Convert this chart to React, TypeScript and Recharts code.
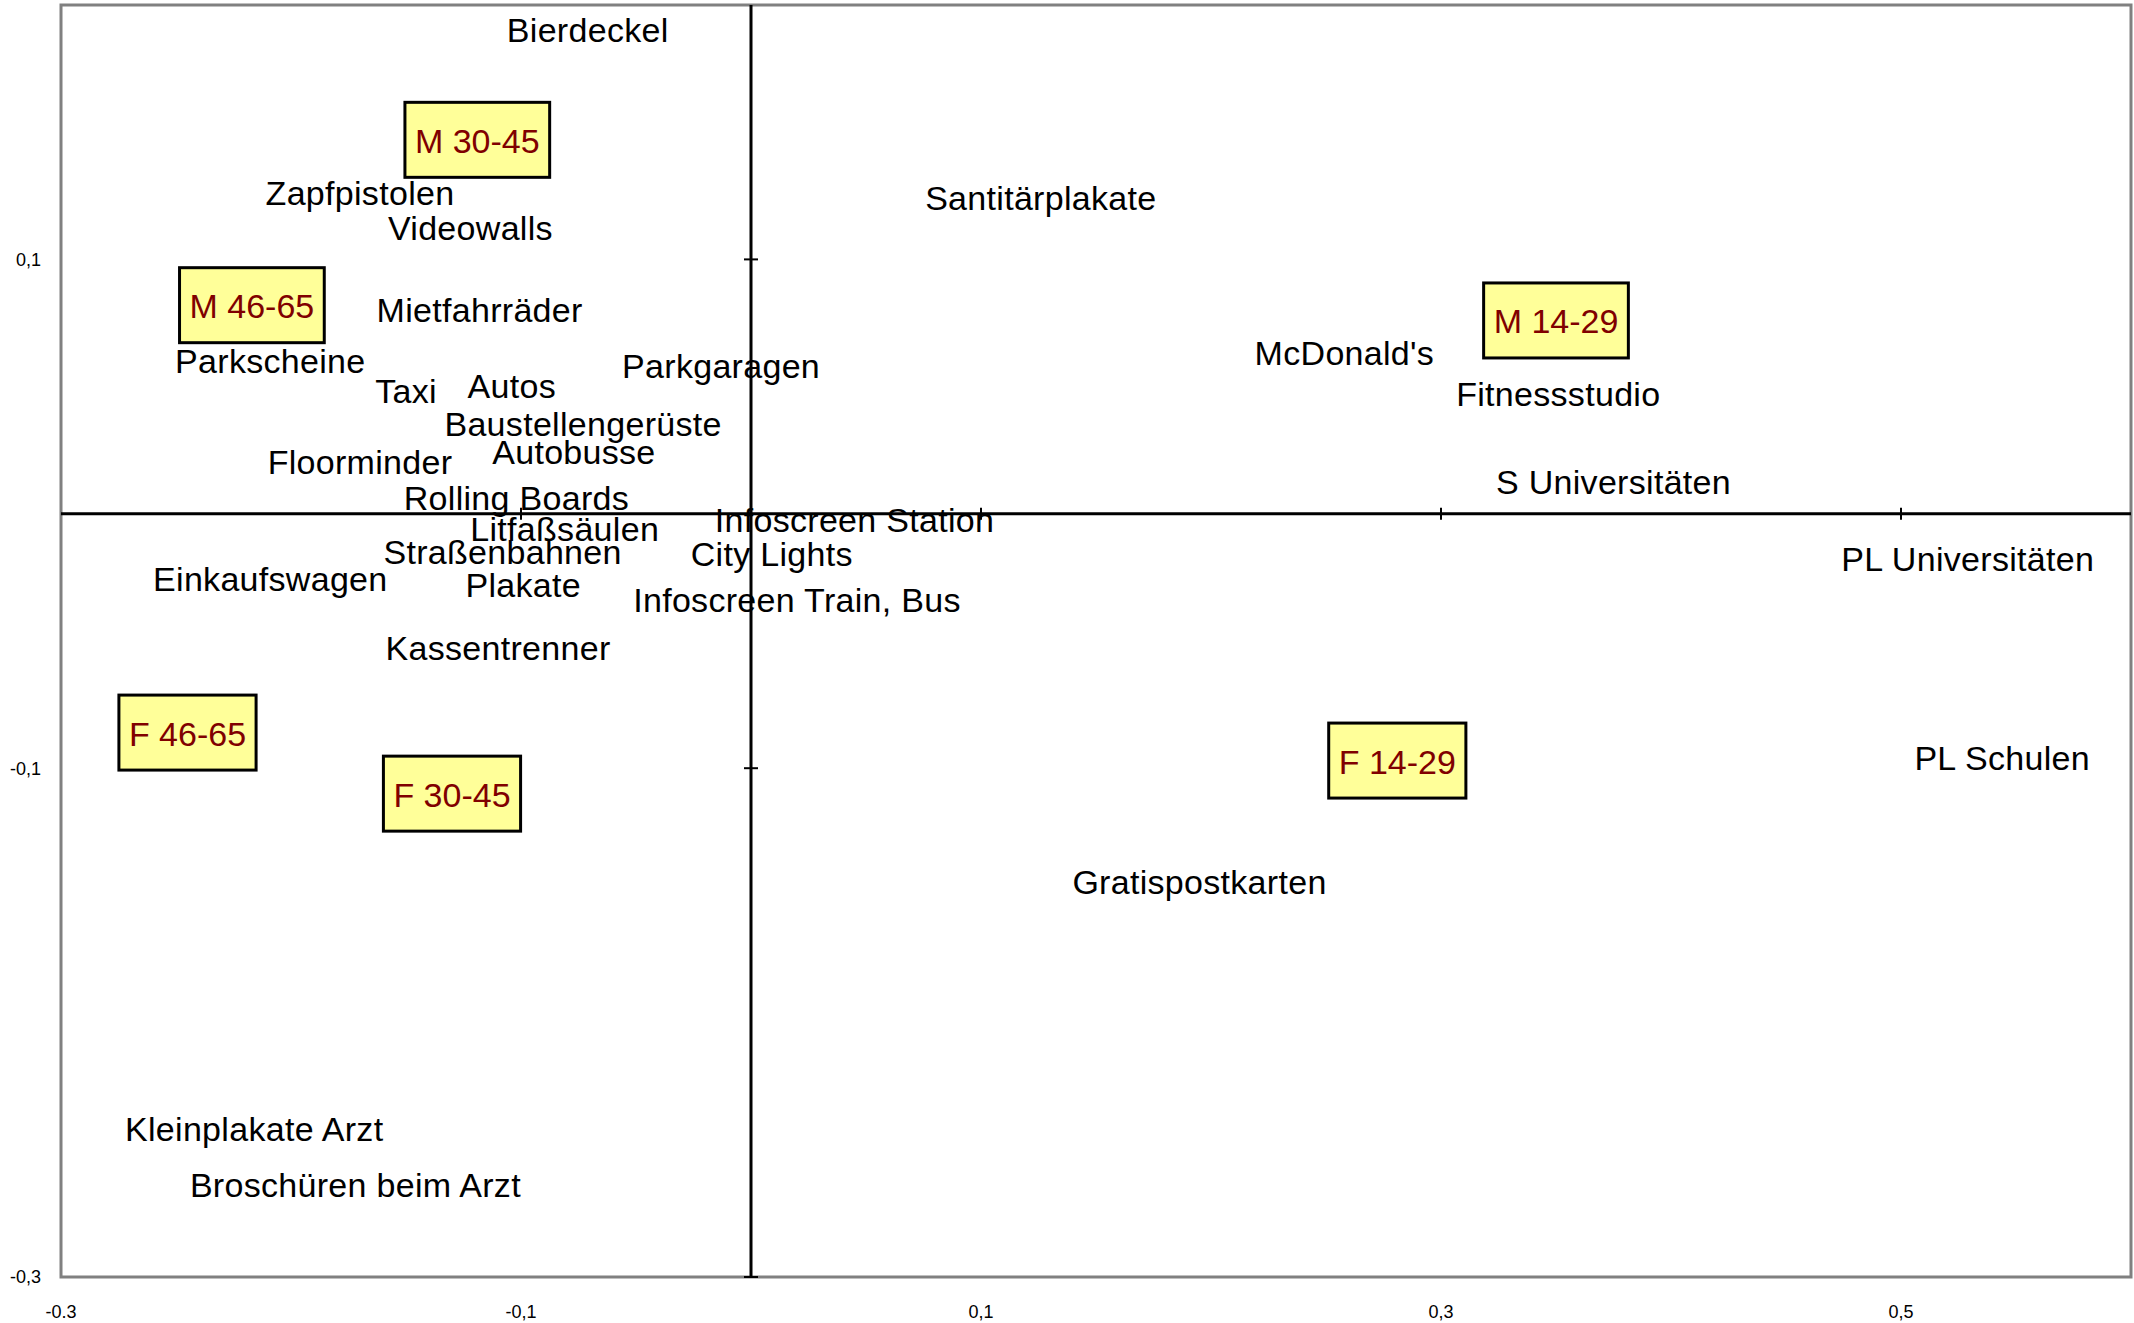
import React from "react";
import {
  ScatterChart,
  Scatter,
  XAxis,
  YAxis,
  ReferenceLine,
  ReferenceArea,
  ReferenceDot,
} from "recharts";

// ---- Data ----
const itemNames = [
  "Bierdeckel",
  "Zapfpistolen",
  "Videowalls",
  "Mietfahrräder",
  "Parkscheine",
  "Parkgaragen",
  "Taxi",
  "Autos",
  "Baustellengerüste",
  "Autobusse",
  "Floorminder",
  "Rolling Boards",
  "Litfaßsäulen",
  "Infoscreen Station",
  "Straßenbahnen",
  "City Lights",
  "Einkaufswagen",
  "Plakate",
  "Infoscreen Train, Bus",
  "Kassentrenner",
  "Kleinplakate Arzt",
  "Broschüren beim Arzt",
  "Santitärplakate",
  "McDonald's",
  "Fitnessstudio",
  "S Universitäten",
  "PL Universitäten",
  "PL Schulen",
  "Gratispostkarten",
];
const itemX = [
  -0.071, -0.17, -0.122, -0.118, -0.209, -0.013, -0.15, -0.104, -0.073, -0.077,
  -0.17, -0.102, -0.081, 0.045, -0.108, 0.009, -0.209, -0.099, 0.02, -0.11,
  -0.216, -0.172, 0.126, 0.258, 0.351, 0.375, 0.529, 0.544, 0.195,
];
const itemY = [
  0.189, 0.125, 0.111, 0.079, 0.059, 0.057, 0.047, 0.049, 0.034, 0.023,
  0.019, 0.005, -0.007, -0.0035, -0.016, -0.017, -0.027, -0.029, -0.035, -0.054,
  -0.243, -0.265, 0.123, 0.062, 0.046, 0.0115, -0.019, -0.097, -0.146,
];

const groupNames = ["M 30-45", "M 46-65", "M 14-29", "F 46-65", "F 30-45", "F 14-29"];
const groupX = [-0.119, -0.217, 0.35, -0.245, -0.13, 0.281];
const groupY = [0.147, 0.082, 0.076, -0.086, -0.11, -0.097];

const xTicks = [-0.3, -0.1, 0.1, 0.3, 0.5];
const xTickLabels = ["-0.3", "-0,1", "0,1", "0,3", "0,5"];
const yTicks = [-0.3, -0.1, 0.1];
const yTickLabels = ["-0,3", "-0,1", "0,1"];
const vAxisTicks = [0.1, -0.1, -0.3];
const hAxisTicks = [-0.1, 0.1, 0.3, 0.5];

const itemData = itemNames.map((name, i) => ({ name, x: itemX[i], y: itemY[i] }));
const groupData = groupNames.map((name, i) => ({ name, x: groupX[i], y: groupY[i] }));

const FONT = "'Liberation Sans', Arial, sans-serif";
const LABEL_SIZE = 34;

let measureCtx: CanvasRenderingContext2D | null = null;
function measure(text: string): number {
  if (!measureCtx) {
    const c = document.createElement("canvas");
    measureCtx = c.getContext("2d");
  }
  if (!measureCtx) return text.length * LABEL_SIZE * 0.55;
  measureCtx.font = `${LABEL_SIZE}px 'Liberation Sans', Arial, sans-serif`;
  return measureCtx.measureText(text).width;
}

const ItemShape = (props: any) => {
  const { cx, cy, payload } = props;
  if (cx == null || cy == null) return null;
  return (
    <text
      x={cx}
      y={cy}
      dy={-3}
      textAnchor="middle"
      dominantBaseline="central"
      fontFamily={FONT}
      fontSize={LABEL_SIZE}
      letterSpacing={0.3}
      fill="#000"
    >
      {payload.name}
    </text>
  );
};

const GroupShape = (props: any) => {
  const { cx, cy, payload } = props;
  if (cx == null || cy == null) return null;
  const w = measure(payload.name) + 20;
  const h = 75;
  return (
    <g>
      <rect
        x={cx - w / 2}
        y={cy - h / 2}
        width={w}
        height={h}
        fill="#FFFF99"
        stroke="#000"
        strokeWidth={3}
      />
      <text
        x={cx}
        y={cy}
        dy={1}
        textAnchor="middle"
        dominantBaseline="central"
        fontFamily={FONT}
        fontSize={LABEL_SIZE}
        fill="#800000"
      >
        {payload.name}
      </text>
    </g>
  );
};

const VTick = (props: any) => {
  const { cx, cy } = props;
  return <line x1={cx - 7} x2={cx + 7} y1={cy} y2={cy} stroke="#000" strokeWidth={2} />;
};
const HTick = (props: any) => {
  const { cx, cy } = props;
  return <line x1={cx} x2={cx} y1={cy - 6} y2={cy + 6} stroke="#000" strokeWidth={2} />;
};

export default function App() {
  return (
    <div style={{ position: "absolute", left: 0, top: 0, background: "#fff" }}>
      <ScatterChart
        width={2134}
        height={1323}
        margin={{ top: 5, right: 3, bottom: 6, left: 6 }}
      >
        <XAxis
          type="number"
          dataKey="x"
          domain={[-0.3, 0.6]}
          ticks={xTicks}
          allowDataOverflow
          axisLine={false}
          tickLine={false}
          tickSize={0}
          tickMargin={28}
          height={40}
          interval={0}
          tickFormatter={(v: number) => {
            const i = xTicks.findIndex((t) => Math.abs(t - v) < 1e-9);
            return i >= 0 ? xTickLabels[i] : String(v);
          }}
          tick={{ fontSize: 18, fill: "#000", fontFamily: FONT }}
        />
        <YAxis
          type="number"
          dataKey="y"
          domain={[-0.3, 0.2]}
          ticks={yTicks}
          allowDataOverflow
          axisLine={false}
          tickLine={false}
          tickSize={0}
          tickMargin={20}
          width={55}
          interval={0}
          tickFormatter={(v: number) => {
            const i = yTicks.findIndex((t) => Math.abs(t - v) < 1e-9);
            return i >= 0 ? yTickLabels[i] : String(v);
          }}
          tick={{ fontSize: 18, fill: "#000", fontFamily: FONT }}
        />
        <ReferenceArea
          x1={-0.3}
          x2={0.6}
          y1={-0.3}
          y2={0.2}
          fill="none"
          fillOpacity={0}
          stroke="#808080"
          strokeWidth={3}
          ifOverflow="visible"
        />
        <ReferenceLine x={0} stroke="#000" strokeWidth={3} />
        <ReferenceLine y={0} stroke="#000" strokeWidth={3} />
        {vAxisTicks.map((t) => (
          <ReferenceDot key={"v" + t} x={0} y={t} r={1} shape={VTick} ifOverflow="visible" />
        ))}
        {hAxisTicks.map((t) => (
          <ReferenceDot key={"h" + t} x={t} y={0} r={1} shape={HTick} ifOverflow="visible" />
        ))}
        <Scatter data={itemData} shape={ItemShape} isAnimationActive={false} />
        <Scatter data={groupData} shape={GroupShape} isAnimationActive={false} />
      </ScatterChart>
    </div>
  );
}
